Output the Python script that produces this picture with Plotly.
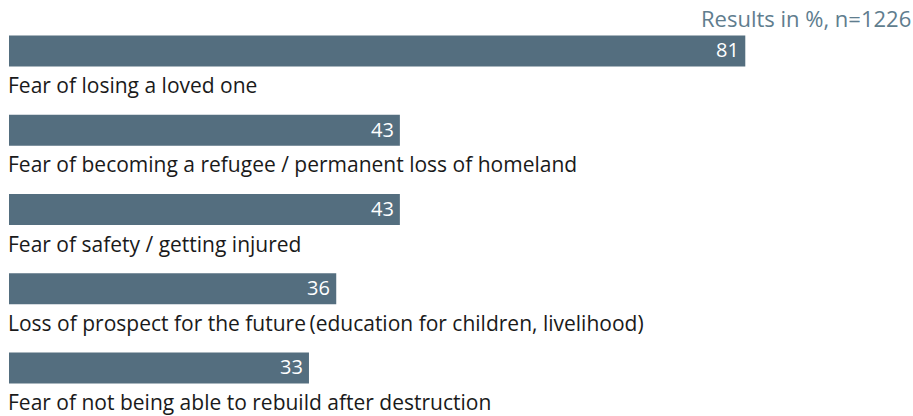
import plotly.graph_objects as go

categories = [
    "Fear of losing a loved one",
    "Fear of becoming a refugee / permanent loss of homeland",
    "Fear of safety / getting injured",
    "Loss of prospect for the future\u2009(education for children, livelihood)",
    "Fear of not being able to rebuild after destruction",
]
values = [81, 43, 43, 36, 33]
note = "Results in %, n=1226"

BAR = "#546e7f"
FONT = "Open Sans"

ypos = list(range(len(categories)))

fig = go.Figure()
fig.add_trace(go.Bar(
    x=values, y=ypos, orientation="h", width=0.39,
    marker=dict(color=BAR, line=dict(width=0)),
    hoverinfo="skip",
))

for i, (c, v) in enumerate(zip(categories, values)):
    fig.add_annotation(x=0, y=i + 0.43, xref="x", yref="y", text=c,
                       showarrow=False, xanchor="left", yanchor="middle",
                       xshift=-3,
                       font=dict(size=21, color="#1a1a1a", family=FONT))
    fig.add_annotation(x=v, y=i, xref="x", yref="y", text=str(v),
                       showarrow=False, xanchor="right", yanchor="middle",
                       xshift=-4, yshift=1,
                       font=dict(size=20, color="white", family=FONT))

fig.add_annotation(x=1, y=1, xref="paper", yref="paper", text=note,
                   showarrow=False, xanchor="right", yanchor="top",
                   xshift=0, yshift=-1,
                   font=dict(size=22, color="#607d8e", family=FONT))

fig.update_layout(
    width=913, height=416,
    margin=dict(l=9, r=0, t=0, b=0),
    paper_bgcolor="white", plot_bgcolor="white",
    showlegend=False,
    xaxis=dict(range=[0, 99.45], visible=False),
    yaxis=dict(range=[4.606, -0.6435], visible=False),
)
fig.write_html("out.html")
